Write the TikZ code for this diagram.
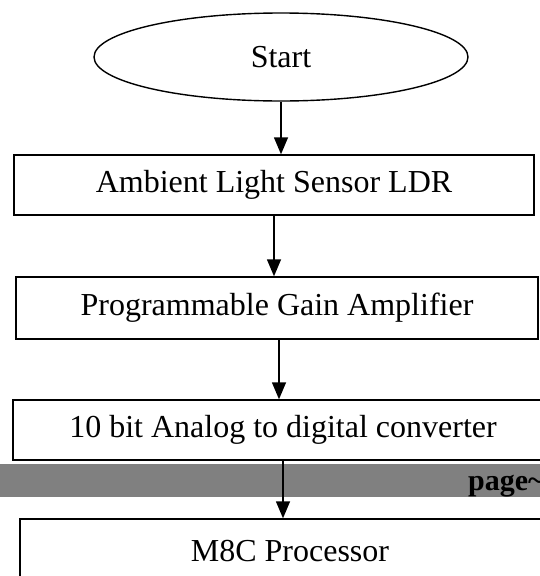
\documentclass[tikz,border=0pt]{standalone}
\usepackage{fontspec}
\setmainfont{Liberation Serif}
\usetikzlibrary{shapes.geometric,arrows.meta,positioning}
\tikzset{
  flowbox/.style={draw, line width=1.4pt, minimum height=60pt, inner sep=0pt},
  flowarrow/.style={line width=1.4pt, -{Triangle[length=17pt,width=14pt]}},
}
\begin{document}
\begin{tikzpicture}[x=1pt,y=-1pt,font=\fontsize{32}{38}\selectfont]
  \useasboundingbox (0,0) rectangle (540,576);
  \clip (0,0) rectangle (540,576);
  % flow chart
  \node[draw, ellipse, line width=1.4pt, minimum width=374pt,
        minimum height=88pt, inner sep=0pt] (start) at (281,57) {Start};
  \node[flowbox, minimum width=520pt] (ldr) at (274,185) {Ambient Light Sensor LDR};
  \node[flowbox, minimum width=522pt, minimum height=62pt] (pga) at (277,308) {Programmable Gain Amplifier};
  \node[flowbox, minimum width=540pt] (adc) at (283,430) {10 bit Analog to digital converter};
  \node[flowbox, minimum width=540pt, minimum height=64pt] (cpu) at (290,551) {M8C Processor};
  % page break band
  \fill[gray] (0,464) rectangle (540,497);
  \node[anchor=base west, inner sep=0pt, font=\fontsize{30}{34}\selectfont\bfseries] (pg) at (468,490) {page\textasciitilde};
  \draw[flowarrow] (start.south) -- (start.south |- ldr.north);
  \draw[flowarrow] (ldr.south) -- (ldr.south |- pga.north);
  \draw[flowarrow] ([xshift=2pt]pga.south) -- ([xshift=2pt]pga.south |- adc.north);
  \draw[flowarrow] (adc.south) -- (adc.south |- cpu.north);
\end{tikzpicture}
\end{document}
